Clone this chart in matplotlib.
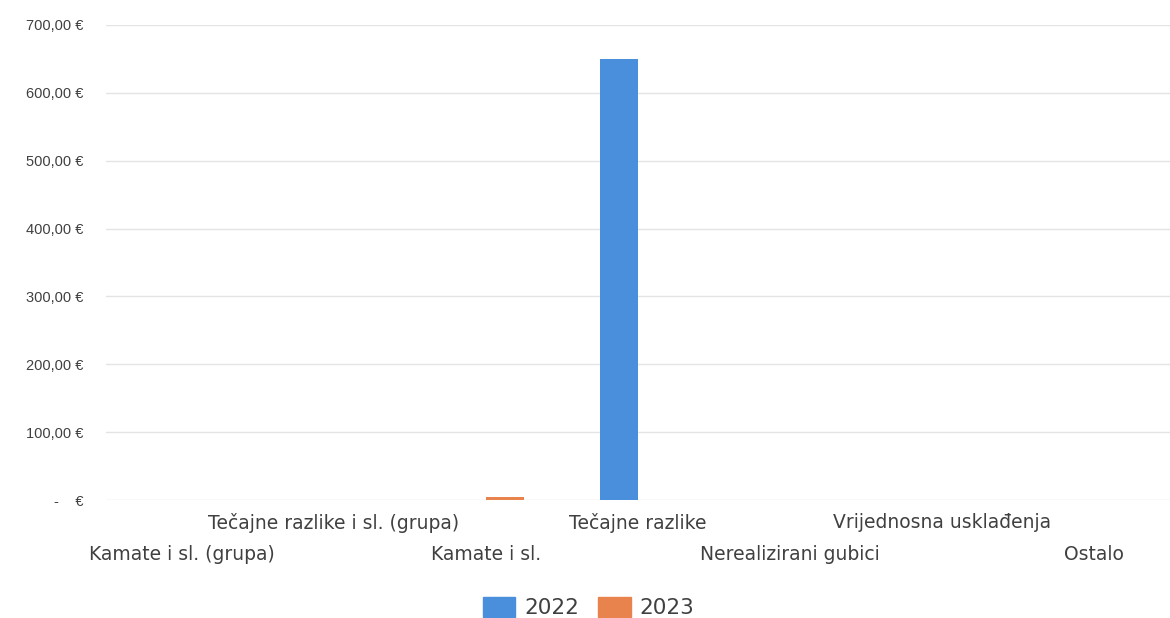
import matplotlib
matplotlib.use("Agg")
import matplotlib.pyplot as plt
from matplotlib.ticker import FuncFormatter
from matplotlib.patches import Patch
import numpy as np

categories = ["Kamate i sl. (grupa)", "Tečajne razlike i sl. (grupa)", "Kamate i sl.",
              "Tečajne razlike", "Nerealizirani gubici", "Vrijednosna usklađenja", "Ostalo"]
values_2022 = [0, 0, 0, 650, 0, 0, 0]
values_2023 = [0, 0, 4, 0, 0, 0, 0]
series_names = ["2022", "2023"]
y_ticks = [0, 100, 200, 300, 400, 500, 600, 700]

plt.rcParams['font.family'] = ['DejaVu Sans']
c2022 = '#4A8FDB'
c2023 = '#E8834E'
txt = '#404040'

fig = plt.figure(figsize=(11.7, 6.18), dpi=100)
ax = fig.add_axes([106/1170, 1 - 500/618, 1 - 106/1170, (500 - 25)/618])

x = np.arange(len(categories))
w = 0.25
ax.bar(x - w/2, values_2022, w, color=c2022, zorder=3)
ax.bar(x + w/2, values_2023, w, color=c2023, zorder=3)

ax.set_xlim(-0.5, len(categories) - 0.5)
ax.set_ylim(0, 700)
ax.set_yticks(y_ticks)

def fmt(v, pos):
    if v == 0:
        return "-    €"
    return f"{v:,.2f} €".replace(",", "X").replace(".", ",").replace("X", ".")
ax.yaxis.set_major_formatter(FuncFormatter(fmt))
ax.tick_params(axis='y', length=0, pad=16, labelcolor=txt)
for lab in ax.get_yticklabels():
    lab.set_fontfamily(['Liberation Sans', 'DejaVu Sans'])
    lab.set_fontsize(10.5)
ax.grid(axis='y', color='#e4e4e4', linewidth=1, zorder=0)
for s in ax.spines.values():
    s.set_visible(False)

ax.set_xticks(x)
ax.set_xticklabels(categories)
ax.tick_params(axis='x', length=0, labelsize=13.5, labelcolor=txt)
for i, t in enumerate(ax.xaxis.get_major_ticks()):
    t.set_pad(9.5 if i % 2 == 1 else 32.5)

handles = [Patch(color=c2022), Patch(color=c2023)]
fig.legend(handles, series_names, loc='lower center', bbox_to_anchor=(0.503, -0.032),
           ncol=2, frameon=False, fontsize=15.5, labelcolor=txt,
           handlelength=1.5, handleheight=1.0, columnspacing=0.9, handletextpad=0.4)

fig.savefig("out.png", dpi=100, facecolor='white')
